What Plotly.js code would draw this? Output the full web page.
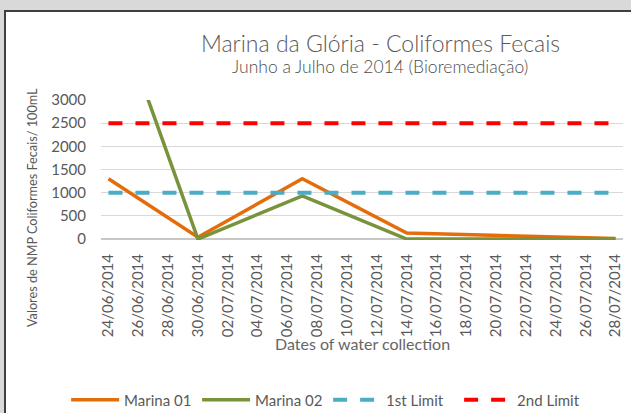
<!DOCTYPE html>
<html>
<head>
<meta charset="utf-8">
<script src="https://cdn.plot.ly/plotly-3.0.1.min.js"></script>
<style>
  html, body { margin: 0; padding: 0; background: #d9d9d9; overflow: hidden; width: 631px; height: 413px; }
  #chart { position: absolute; left: 0; top: 0; width: 631px; height: 413px; }
</style>
</head>
<body>
<div id="chart"></div>
<script>
// Collection dates and measured values (NMP / 100mL)
const sampleDates = ['2014-06-24', '2014-06-30', '2014-07-07', '2014-07-14', '2014-07-28'];
const marina01 = [1300, 40, 1300, 130, 10];
const marina02 = [5400, 0, 930, 0, 0];

// Reference limits
const limitDates = ['2014-06-24', '2014-07-28'];
const limit1 = [1000, 1000];
const limit2 = [2500, 2500];

// X tick labels (every 2 days)
const xTickLabels = ['24/06/2014', '26/06/2014', '28/06/2014', '30/06/2014', '02/07/2014', '04/07/2014',
  '06/07/2014', '08/07/2014', '10/07/2014', '12/07/2014', '14/07/2014', '16/07/2014', '18/07/2014',
  '20/07/2014', '22/07/2014', '24/07/2014', '26/07/2014', '28/07/2014'];
const yTickVals = [0, 500, 1000, 1500, 2000, 2500, 3000];

const xTickVals = xTickLabels.map(s => { const p = s.split('/'); return p[2] + '-' + p[1] + '-' + p[0]; });

const FONT = 'Lato, "Open Sans", sans-serif';
const GREY = '#595959';

const traces = [
  { x: sampleDates, y: marina01, name: 'Marina 01', type: 'scatter', mode: 'lines',
    line: { color: '#E46C0A', width: 3.5 } },
  { x: sampleDates, y: marina02, name: 'Marina 02', type: 'scatter', mode: 'lines',
    line: { color: '#77933C', width: 3.5 } },
  { x: limitDates, y: limit1, name: '1st Limit', type: 'scatter', mode: 'lines',
    line: { color: '#4BACC6', width: 4, dash: '14px,13px' } },
  { x: limitDates, y: limit2, name: '2nd Limit', type: 'scatter', mode: 'lines',
    line: { color: '#FF0000', width: 4, dash: '14px,13px' } }
];

// pixel -> paper helpers for the chart frame (plot area: x 101..623, y 100..240)
const px = v => (v - 101) / 522;
const py = v => (240 - v) / 140;

const layout = {
  width: 631, height: 413,
  margin: { l: 101, r: 8, t: 100, b: 173, pad: 0, autoexpand: false },
  paper_bgcolor: '#d9d9d9',
  plot_bgcolor: 'rgba(0,0,0,0)',
  font: { family: FONT, color: GREY, size: 15 },
  showlegend: true,
  legend: { orientation: 'h', xref: 'container', yref: 'container',
            x: 0.52, xanchor: 'center', y: 1 - 400 / 413, yanchor: 'middle',
            entrywidth: 68, itemwidth: 48, bgcolor: 'rgba(0,0,0,0)',
            font: { family: FONT, size: 15, color: GREY }, traceorder: 'normal' },
  xaxis: {
    type: 'date',
    range: ['2014-06-23 12:00', '2014-07-28 12:00'],
    tickmode: 'array', tickvals: xTickVals, ticktext: xTickLabels,
    tickangle: -90, ticks: '', showgrid: false, showline: false, zeroline: false,
    ticklabelstandoff: 10,
    tickfont: { family: FONT, size: 15, color: GREY }
  },
  yaxis: {
    range: [-20, 3000],
    tickmode: 'array', tickvals: yTickVals,
    ticks: '', showgrid: true, gridcolor: '#d9d9d9', gridwidth: 1,
    zeroline: true, zerolinecolor: '#c8c8c8', zerolinewidth: 2,
    showline: false, ticklabelstandoff: 14,
    tickfont: { family: FONT, size: 15, color: GREY }
  },
  shapes: [
    { type: 'rect', xref: 'paper', yref: 'paper', layer: 'below',
      x0: px(4), x1: px(660), y0: py(440), y1: py(10),
      fillcolor: '#ffffff', line: { width: 0 } },
    { type: 'line', xref: 'paper', yref: 'paper', layer: 'below',
      x0: px(5), x1: px(5), y0: py(440), y1: py(10),
      line: { color: '#3f3f3f', width: 2 } },
    { type: 'line', xref: 'paper', yref: 'paper', layer: 'below',
      x0: px(4), x1: px(660), y0: py(11), y1: py(11),
      line: { color: '#3f3f3f', width: 2 } }
  ],
  annotations: [
    { text: 'Marina da Glória - Coliformes Fecais', xref: 'paper', yref: 'paper',
      x: 0.5345, y: 1.407, xanchor: 'center', yanchor: 'middle', showarrow: false,
      font: { family: FONT, size: 23, color: GREY, weight: 300 } },
    { text: 'Junho a Julho de 2014 (Bioremediação)', xref: 'paper', yref: 'paper',
      x: 0.5345, y: 1.236, xanchor: 'center', yanchor: 'middle', showarrow: false,
      font: { family: FONT, size: 17.5, color: '#4d4d4d', weight: 300 } },
    { text: 'Valores de NMP Coliformes Fecais/ 100mL', xref: 'paper', yref: 'paper',
      x: -0.132, y: 0.229, xanchor: 'center', yanchor: 'middle', textangle: -90, showarrow: false,
      font: { family: FONT, size: 12.7, color: GREY } },
    { text: 'Dates of water collection', xref: 'paper', yref: 'paper',
      x: 0.5, y: -0.736, xanchor: 'center', yanchor: 'middle', showarrow: false,
      font: { family: FONT, size: 16, color: '#666666', weight: 400 } }
  ]
};

Plotly.newPlot('chart', traces, layout, { displayModeBar: false, staticPlot: true });
</script>
</body>
</html>
